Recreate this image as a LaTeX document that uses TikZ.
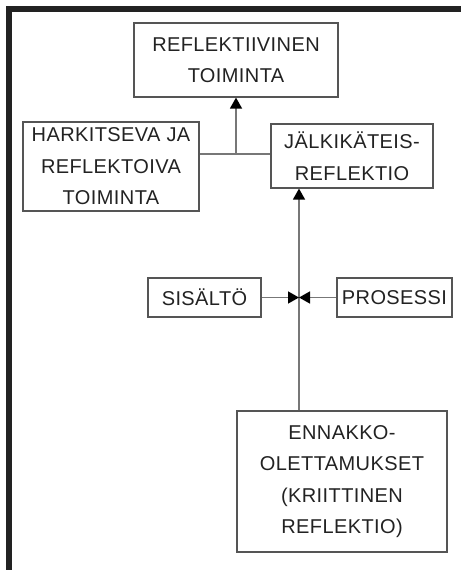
\documentclass[tikz,border=0pt]{standalone}
\usepackage{fontspec}
\setmainfont{Liberation Sans}[LetterSpace=2]
\usetikzlibrary{arrows.meta}
\definecolor{boxc}{HTML}{555555}
\definecolor{linec}{HTML}{777777}
\definecolor{txtc}{HTML}{222222}
\begin{document}
\begin{tikzpicture}[x=1pt,y=-1pt,
  bx/.style={draw=boxc,line width=1.2pt,inner sep=0pt,align=center,text=txtc,
    font=\fontsize{20}{31.5}\selectfont},
  conn/.style={draw=linec,line width=1.5pt},
  arr/.style={conn,-{Triangle[length=11pt,width=12pt,color=black]}}]
\useasboundingbox (0,0) rectangle (461,570);
\draw[line width=5.5pt,color=txtc] (9,570) -- (9,9) -- (461,9);
\node[bx,minimum width=204pt,minimum height=74pt] (R) at (236,60) {REFLEKTIIVINEN\\TOIMINTA};
\node[bx,minimum width=176pt,minimum height=89pt] (H) at (111,166.5) {HARKITSEVA JA\\REFLEKTOIVA\\TOIMINTA};
\node[bx,minimum width=162pt,minimum height=64pt] (J) at (352,156) {JÄLKIKÄTEIS-\\REFLEKTIO};
\node[bx,minimum width=113pt,minimum height=39pt] (S) at (204.5,297.5) {SISÄLTÖ};
\node[bx,minimum width=115pt,minimum height=39pt] (P) at (394.5,297.5) {PROSESSI};
\node[bx,minimum width=210pt,minimum height=141pt] (E) at (342,481.5) {ENNAKKO-\\OLETTAMUKSET\\(KRIITTINEN\\REFLEKTIO)};
\coordinate (hj) at (236,154);
\coordinate (m) at (299,297.5);
\draw[conn] (H.east |- hj) -- (J.west |- hj);
\draw[arr] (hj) -- (R.south);
\draw[arr] (E.north -| m) -- (J.south -| m);
\draw[arr] (S.east) -- (m);
\draw[arr] (P.west) -- (m);
\end{tikzpicture}
\end{document}
